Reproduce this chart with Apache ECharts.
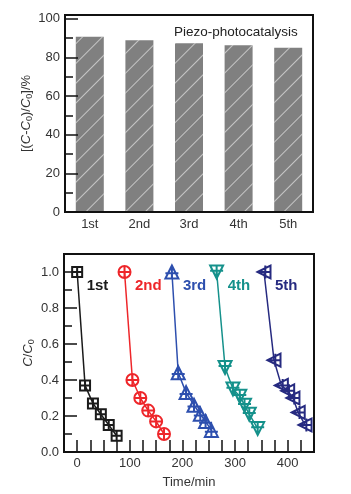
<!DOCTYPE html>
<html>
<head>
<meta charset="utf-8">
<script src="https://cdn.jsdelivr.net/npm/echarts@6/dist/echarts.min.js"></script>
<style>
  html, body { margin: 0; padding: 0; background: #fff; }
  #chart { width: 351px; height: 494px; }
</style>
</head>
<body>
<div id="chart"></div>
<script>
// 循环次数与降解率
var cycles = ['1st', '2nd', '3rd', '4th', '5th']
var removal = [90.8, 88.9, 87.4, 86.3, 85.0]

// 各次循环 C/C0 随时间
var time1 = [0, 15, 30, 45, 60, 75]
var ratio1 = [1.0, 0.37, 0.27, 0.21, 0.15, 0.09]
var time2 = [90, 105, 120, 135, 150, 165]
var ratio2 = [1.0, 0.40, 0.30, 0.23, 0.17, 0.10]
var time3 = [180, 192, 207, 222, 234, 244, 255]
var ratio3 = [1.0, 0.44, 0.33, 0.26, 0.21, 0.17, 0.12]
var time4 = [265, 281, 296, 309, 318, 327, 343]
var ratio4 = [1.0, 0.47, 0.35, 0.31, 0.26, 0.21, 0.13]
var time5 = [355, 374, 388, 400, 410, 420, 433]
var ratio5 = [1.0, 0.51, 0.37, 0.34, 0.30, 0.22, 0.15]

var botMajor = [0, 0.2, 0.4, 0.6, 0.8, 1.0]
var botMinor = [0.1, 0.3, 0.5, 0.7, 0.9]
var timeLabels = [0, 100, 200, 300, 400]

var font = 'Liberation Sans, Arial, sans-serif'
var axisColor = '#111'
var labelColor = '#333'

// 标记符号
var symSquare = 'path://M0,0L10,0L10,10L0,10Z M5,0L5,10 M0,5L10,5'
var symCircle = 'path://M0,5A5,5 0 1,1 10,5A5,5 0 1,1 0,5Z M5,0L5,10 M0,5L10,5'
var symUp = 'path://M5,0L10,10L0,10Z M5,0L5,10 M0,6L10,6'
var symDown = 'path://M0,0L10,0L5,10Z M5,0L5,10 M0,4L10,4'
var symLeft = 'path://M0,5L10,0L10,10Z M0,5L10,5 M6,0L6,10'

var runs = [
  { name: '1st', t: time1, r: ratio1, color: '#1a1a1a', symbol: symSquare, size: 10 },
  { name: '2nd', t: time2, r: ratio2, color: '#ee262a', symbol: symCircle, size: 12 },
  { name: '3rd', t: time3, r: ratio3, color: '#2d4fae', symbol: symUp, size: 13 },
  { name: '4th', t: time4, r: ratio4, color: '#15918b', symbol: symDown, size: 13 },
  { name: '5th', t: time5, r: ratio5, color: '#262a80', symbol: symLeft, size: 13 },
]

var myChart = echarts.init(document.getElementById('chart'))

var series = [
  {
    type: 'bar',
    xAxisIndex: 0,
    yAxisIndex: 0,
    data: removal,
    barWidth: 28,
    z: 1,
    itemStyle: {
      color: '#808080',
      decal: {
        symbol: 'rect',
        symbolSize: 1,
        color: 'rgba(255,255,255,0.55)',
        dashArrayX: [1, 0],
        dashArrayY: [1, 13],
        rotation: -Math.PI / 4,
      },
    },
    silent: true,
  },
]

runs.forEach(function (run) {
  series.push({
    type: 'line',
    name: run.name,
    xAxisIndex: 1,
    yAxisIndex: 2,
    data: run.t.map(function (t, i) { return [t, run.r[i]] }),
    symbol: run.symbol,
    symbolSize: run.size,
    showAllSymbol: true,
    lineStyle: { color: run.color, width: 1.5 },
    itemStyle: { color: 'none', borderColor: run.color, borderWidth: 2 },
    label: {
      show: true,
      position: 'right',
      offset: [-3, 14],
      formatter: function (p) { return p.dataIndex === 0 ? run.name : '' },
      color: run.color,
      fontFamily: font,
      fontWeight: 'bold',
      fontSize: 15,
    },
    animation: false,
  })
})

var yName = {
  color: labelColor,
  fontFamily: font,
  fontSize: 13,
  rich: {
    i: { fontStyle: 'italic', fontFamily: font, fontSize: 13, color: labelColor },
    s: { fontFamily: font, fontSize: 9, color: labelColor, padding: [7, 0, 0, 0] },
  },
}

var option = {
  backgroundColor: '#fff',
  animation: false,
  title: {
    text: 'Piezo-photocatalysis',
    left: 169,
    top: 20,
    textStyle: { fontFamily: font, fontSize: 13.5, fontWeight: 'normal', color: '#222' },
  },
  grid: [
    { left: 65, top: 15, width: 248, height: 197, show: true, borderColor: axisColor, borderWidth: 2 },
    { left: 64, top: 254, width: 250, height: 198, show: true, borderColor: axisColor, borderWidth: 2 },
  ],
  xAxis: [
    {
      type: 'category',
      gridIndex: 0,
      data: cycles,
      axisLine: { lineStyle: { color: axisColor, width: 2 } },
      axisTick: { show: false },
      axisLabel: { color: labelColor, fontFamily: font, fontSize: 13, margin: 6 },
      z: 3,
    },
    {
      type: 'value',
      gridIndex: 1,
      min: -25,
      max: 450,
      interval: 25,
      name: 'Time/min',
      nameLocation: 'middle',
      nameGap: 24,
      nameMoveOverlap: false,
      nameTextStyle: { color: labelColor, fontFamily: font, fontSize: 13 },
      splitLine: { show: false },
      axisLine: { onZero: false, lineStyle: { color: axisColor, width: 2 } },
      axisTick: { inside: true, length: 12, lineStyle: { color: axisColor, width: 1.5 } },
      axisLabel: { customValues: timeLabels, color: labelColor, fontFamily: font, fontSize: 13, margin: 5 },
    },
  ],
  yAxis: [
    {
      type: 'value',
      gridIndex: 0,
      position: 'left',
      min: 0,
      max: 102,
      interval: 20,
      name: '[({i|C}-{i|C}{s|0})/{i|C}{s|0}]/%',
      nameLocation: 'middle',
      nameGap: 31,
      nameMoveOverlap: false,
      nameTextStyle: yName,
      splitLine: { show: false },
      axisLine: { show: true, onZero: false, lineStyle: { color: axisColor, width: 2 } },
      axisTick: { show: true, inside: true, length: 13, lineStyle: { color: axisColor, width: 1.5 } },
      axisLabel: {
        showMaxLabel: false,
        formatter: function (v) { return v % 20 === 0 ? String(v) : '' },
        color: labelColor,
        fontFamily: font,
        fontSize: 13,
        margin: 5,
      },
      z: 3,
    },
    {
      type: 'value',
      gridIndex: 0,
      position: 'left',
      offset: 0,
      min: 0,
      max: 102,
      interval: 10,
      splitLine: { show: false },
      axisLine: { show: false, onZero: false },
      axisTick: { show: true, inside: true, length: 8, lineStyle: { color: axisColor, width: 1.5 } },
      axisLabel: { show: false },
      z: 3,
    },
    {
      type: 'value',
      gridIndex: 1,
      position: 'left',
      min: 0,
      max: 1.1,
      name: '{i|C}/{i|C}{s|0}',
      nameLocation: 'middle',
      nameGap: 28,
      nameMoveOverlap: false,
      nameTextStyle: yName,
      splitLine: { show: false },
      axisLine: { onZero: false, lineStyle: { color: axisColor, width: 2 } },
      axisTick: { inside: true, length: 13, customValues: botMajor, lineStyle: { color: axisColor, width: 1.5 } },
      axisLabel: {
        customValues: botMajor,
        formatter: function (v) { return v.toFixed(1) },
        color: labelColor,
        fontFamily: font,
        fontSize: 13,
        margin: 5,
      },
    },
    {
      type: 'value',
      gridIndex: 1,
      position: 'left',
      offset: 0,
      min: 0,
      max: 1.1,
      splitLine: { show: false },
      axisLine: { show: false, onZero: false },
      axisTick: { inside: true, length: 8, customValues: botMinor, lineStyle: { color: axisColor, width: 1.5 } },
      axisLabel: { show: false },
    },
  ],
  series: series,
}

myChart.setOption(option)
</script>
</body>
</html>
